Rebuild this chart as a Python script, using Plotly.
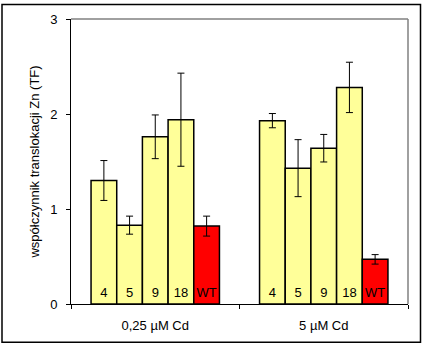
import plotly.graph_objects as go

categories = ["0,25 µM Cd", "5 µM Cd"]
strains = ["4", "5", "9", "18", "WT"]
values = {
    "4":  [1.30, 1.93],
    "5":  [0.83, 1.43],
    "9":  [1.76, 1.64],
    "18": [1.94, 2.28],
    "WT": [0.82, 0.47],
}
errors = {
    "4":  [0.21, 0.075],
    "5":  [0.095, 0.30],
    "9":  [0.23, 0.145],
    "18": [0.49, 0.265],
    "WT": [0.105, 0.05],
}
colors = {"4": "#FFFF99", "5": "#FFFF99", "9": "#FFFF99", "18": "#FFFF99", "WT": "#FF0000"}

FONT = "Arial, 'Liberation Sans', sans-serif"
FS = 13
BARGAP = 0.238
YMAX = 3

W, H = 422, 345
l, r, t, b = 71, 14, 17, 41
pw, ph = W - l - r, H - t - b

fig = go.Figure()
for s in strains:
    fig.add_trace(go.Bar(
        x=categories, y=values[s], name=s,
        marker=dict(color=colors[s], line=dict(color="black", width=1.5)),
        error_y=dict(type="data", array=errors[s], color="black", thickness=1, width=3.5),
    ))

# in-bar strain labels, placed at each bar's centre on a numeric overlay axis,
# lifted a few pixels off the baseline
n = len(strains)
grp = 1 - BARGAP
lift = 4 * YMAX / ph
lx, ly, lt = [], [], []
for i, _ in enumerate(categories):
    for k, s in enumerate(strains):
        lx.append(i - grp / 2 + (k + 0.5) * grp / n)
        ly.append(lift)
        lt.append(s)
fig.add_trace(go.Scatter(
    x=lx, y=ly, text=lt, mode="text", textposition="top center",
    textfont=dict(family=FONT, size=FS, color="black"),
    xaxis="x2", yaxis="y", hoverinfo="skip", cliponaxis=False,
))

def px(xp):
    return (xp - l) / pw
def py(yp):
    return (H - b - yp) / ph

fig.update_layout(
    width=W, height=H,
    margin=dict(l=l, r=r, t=t, b=b),
    paper_bgcolor="white", plot_bgcolor="white",
    barmode="group", bargap=BARGAP, bargroupgap=0,
    showlegend=False,
    font=dict(family=FONT, size=FS, color="black"),
    xaxis=dict(
        type="category", range=[-0.5, len(categories) - 0.5],
        tickson="boundaries", ticks="outside", ticklen=4,
        tickcolor="black", showline=True, linecolor="black", linewidth=1,
        showgrid=False, ticklabelstandoff=9,
        tickfont=dict(family=FONT, size=FS, color="black"),
    ),
    xaxis2=dict(
        overlaying="x", range=[-0.5, len(categories) - 0.5], visible=False,
    ),
    yaxis=dict(
        range=[0, YMAX], dtick=1, ticks="outside", ticklen=4, tickcolor="black",
        showline=True, linecolor="black", linewidth=1, showgrid=False,
        zeroline=False, ticklabelstandoff=6,
        tickfont=dict(family=FONT, size=FS, color="black"),
        title=dict(text="współczynnik translokacji Zn (TF)", standoff=7,
                   font=dict(family=FONT, size=FS, color="black")),
    ),
    shapes=[
        dict(type="line", xref="paper", yref="paper", x0=0, x1=1, y0=1, y1=1,
             line=dict(color="#808080", width=1.5)),
        dict(type="line", xref="paper", yref="paper", x0=1, x1=1, y0=0, y1=1,
             line=dict(color="#808080", width=1.5)),
        dict(type="rect", xref="paper", yref="paper",
             x0=px(2), x1=px(420.5), y0=py(342.5), y1=py(2.5),
             line=dict(color="black", width=1.5), layer="below"),
    ],
)

fig.write_html("out.html")
